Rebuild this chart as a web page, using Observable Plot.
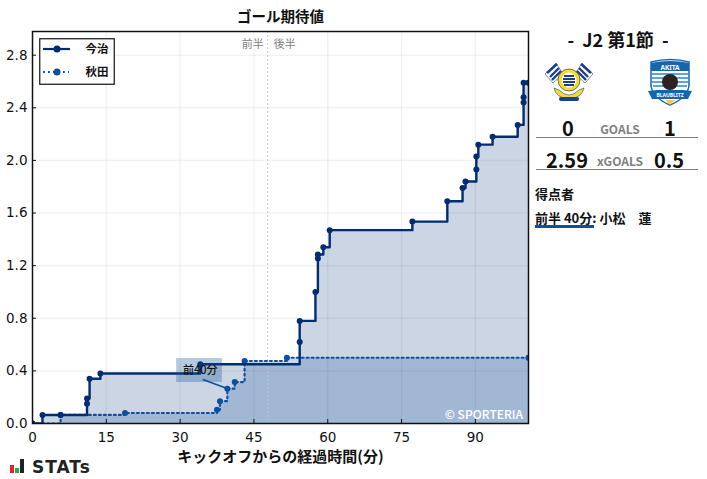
<!DOCTYPE html>
<html><head><meta charset="utf-8">
<script src="https://cdn.jsdelivr.net/npm/d3@7"></script>
<script src="https://cdn.jsdelivr.net/npm/@observablehq/plot@0.6"></script>
<style>
html,body{margin:0;padding:0;background:#fff}
#wrap{position:relative;width:707px;height:479px;overflow:hidden;font-family:"Noto Sans CJK JP","Noto Sans",sans-serif;color:#111}
#wrap>div,#wrap>svg.o{position:absolute}
.c{transform:translateX(-50%);white-space:nowrap;font-weight:700;line-height:1}
.g{color:#808080;font-size:12px}
.hr{height:1px;background:#808080;left:536px;width:162px}
</style></head><body><div id="wrap"></div>
<script>
const homeMin = [0,2.03,5.7,11.08,11.08,11.6,13.8,34.1,54.3,54.3,57.5,58,58,59.1,60.4,77.2,84.3,87.4,88,90.2,90.2,90.6,93.5,98.6,99.8,99.8,99.8,100.8];
const homeXg  = [0,0.065,0.065,0.15,0.19,0.34,0.38,0.45,0.62,0.78,1.0,1.255,1.285,1.34,1.47,1.535,1.69,1.79,1.84,1.93,2.03,2.12,2.18,2.27,2.44,2.48,2.59,2.59];
const awayMin = [0,5.7,18.8,37.5,38.1,39.6,41.1,43.1,51.7,100.8];
const awayXg  = [0,0.065,0.08,0.105,0.17,0.265,0.315,0.475,0.5,0.5];
const xTicks = [0,15,30,45,60,75,90];
const yTicks = [0,0.4,0.8,1.2,1.6,2.0,2.4,2.8];
const halfTime = [47.8];
const goalBox = [{x1:29.3,x2:38.6,y1:0.312,y2:0.494}];
const goalArrow = [{x1:34.6,y1:0.335,x2:39.3,y2:0.27}];
const goalLabel = [{x:34.1,y:0.405,t:"前40分"}];
const homeColor = "#002d72", awayColor = "#0c4f9e";
const home = homeMin.map((m,i)=>({m,v:homeXg[i],z:0}));
const away = awayMin.map((m,i)=>({m,v:awayXg[i],z:0}));
const jp = '"Noto Sans CJK JP"';

const chart = Plot.plot({
  width:707,height:479,marginLeft:32,marginRight:179,marginTop:31,marginBottom:56,
  style:{background:"transparent",fontFamily:"DejaVu Sans",fontSize:"13.5px",color:"#111",overflow:"visible"},
  x:{domain:[0,100.8]},
  y:{domain:[0,2.98]},
  marks:[
    Plot.area(home,{x1:"m",y1:"z",y2:"v",curve:"step-after",fill:homeColor,fillOpacity:0.2}),
    Plot.area(away,{x1:"m",y1:"z",y2:"v",curve:"step-after",fill:awayColor,fillOpacity:0.22}),
    Plot.ruleX(xTicks,{stroke:"#000",strokeOpacity:0.05,strokeWidth:1.5}),
    Plot.ruleY(yTicks,{stroke:"#000",strokeOpacity:0.05,strokeWidth:1.5}),
    Plot.ruleX(halfTime,{stroke:"#c4c4c4",strokeWidth:1,strokeDasharray:"2 2"}),
    Plot.line(away,{x:"m",y:"v",curve:"step-after",stroke:awayColor,strokeWidth:2.2,strokeDasharray:"1.8 3.2",clip:true}),
    Plot.dot(away,{x:"m",y:"v",r:3,fill:awayColor,clip:true}),
    Plot.line(home,{x:"m",y:"v",curve:"step-after",stroke:homeColor,strokeWidth:2.4,clip:true}),
    Plot.dot(home,{x:"m",y:"v",r:3,fill:homeColor,clip:true}),
    Plot.rect(goalBox,{x1:"x1",x2:"x2",y1:"y1",y2:"y2",fill:awayColor,fillOpacity:0.3}),
    Plot.link(goalArrow,{x1:"x1",y1:"y1",x2:"x2",y2:"y2",stroke:awayColor,strokeWidth:1.6}),
    Plot.text(goalLabel,{x:"x",y:"y",text:"t",fontFamily:jp,fontSize:11,fontWeight:500,fill:"#111"}),
    Plot.text(["前半"],{x:halfTime,frameAnchor:"top",dy:9,dx:-4,textAnchor:"end",fontFamily:jp,fontSize:11,fill:"#808080"}),
    Plot.text(["後半"],{x:halfTime,frameAnchor:"top",dy:9,dx:6,textAnchor:"start",fontFamily:jp,fontSize:11,fill:"#808080"}),
    Plot.frame({stroke:"#111",strokeWidth:1.5}),
    Plot.axisX({ticks:xTicks,tickSize:-4,tickPadding:13,label:null,tickFormat:d=>d,stroke:"#111",fill:"#111"}),
    Plot.axisY({ticks:yTicks,tickSize:-4,tickPadding:9,label:null,tickFormat:d3.format(".1f"),stroke:"#111",fill:"#111"})
  ]
});
const wrap = document.getElementById("wrap");
wrap.appendChild(chart);
function add(html){const t=document.createElement("div");t.innerHTML=html;while(t.firstChild)wrap.appendChild(t.firstChild);}
const pos=(x,y,size,txt,extra="",cls="c")=>`<div class="${cls}" style="left:${x}px;top:${y}px;font-size:${size}px;${extra}">${txt}</div>`;
add(pos(280.5,9,14.5,"ゴール期待値"));
add(pos(280.5,448,15,"キックオフからの経過時間(分)"));
// legend
add(`<svg class="o" style="left:39px;top:38px" width="76" height="47">
<rect x=".75" y=".75" width="74.5" height="45.5" fill="#fff" stroke="#111" stroke-width="1.2"/>
<line x1="4" x2="31" y1="11" y2="11" stroke="${homeColor}" stroke-width="2.2"/><circle cx="18" cy="11" r="3.5" fill="${homeColor}"/>
<line x1="4" x2="30" y1="34" y2="34" stroke="${awayColor}" stroke-width="2.2" stroke-dasharray="1.8 3.2"/><circle cx="18" cy="34" r="3.5" fill="${awayColor}"/>
</svg>`);
add(pos(97,43,11.5,"今治"));
add(pos(97,66,11.5,"秋田"));
// right panel
add(pos(618,30,18,"- &nbsp;J2 第1節&nbsp; -"));
add(`<svg class="o" style="left:544px;top:60px" width="50" height="46" viewBox="0 0 50 46">
<g stroke="#1b3f8b" stroke-width=".6"><path d="M1 14L12 3L19 14L9 23Z" fill="#fff"/><path d="M3 13L13 4M6 17L15 8M8 20L17 11" stroke-width="2.4"/>
<path d="M49 14L38 3L31 14L41 23Z" fill="#fff"/><path d="M47 13L37 4M44 17L35 8M42 20L33 11" stroke-width="2.4"/></g>
<path d="M10 28Q12 38 25 39Q38 38 40 28L35 30Q30 35 25 35Q20 35 15 30Z" fill="#f4dc2e" stroke="#1b3f8b" stroke-width=".6"/>
<circle cx="25" cy="20" r="11" fill="#f4dc2e" stroke="#222" stroke-width=".6"/><circle cx="25" cy="20" r="7.500" fill="#fff"/>
<path d="M20 16h10M19 19h12M19 22h12M20 25h10" stroke="#1b3f8b" stroke-width="1.8"/>
<rect x="15" y="37" width="20" height="4" rx="2" fill="#1b3f8b"/></svg>`);
add(`<svg class="o" style="left:647px;top:58px" width="46" height="48" viewBox="0 0 46 48">
<path d="M4 4Q23 -1 42 4V28Q40 40 23 47Q6 40 4 28Z" fill="#fff" stroke="#1466ad" stroke-width="1.5"/>
<path d="M4 5Q23 1 42 5V13H4Z" fill="#1466ad"/>
<text x="23" y="11.500" text-anchor="middle" font-size="6.500" font-weight="700" fill="#fff" font-family="Noto Sans">AKITA</text>
<path d="M5 16H41M5 20H41M5 24H41M6 28H40" stroke="#5aa5dc" stroke-width="2"/>
<circle cx="23" cy="24" r="8" fill="#2b2320"/>
<path d="M1 33L10 32H36L45 33L41 41H5Z" fill="#1466ad"/>
<text x="23" y="38.500" text-anchor="middle" font-size="5" font-weight="700" fill="#fff" font-family="Noto Sans">BLAUBLITZ</text>
<path d="M18 42L23 47L28 42Z" fill="#f2cf3b"/></svg>`);
add(pos(568,118,20,"0"));
add(pos(620,122.500,12,"GOALS","","c g"));
add(pos(670,118,20,"1"));
add(`<div class="hr" style="top:137px"></div>`);
add(pos(567,150,20,"2.59"));
add(pos(620,155,12,"xGOALS","","c g"));
add(pos(669,150,20,"0.5"));
add(`<div class="hr" style="top:169px"></div>`);
add(`<div style="left:535px;top:187px;font-size:13px;font-weight:700;line-height:1;white-space:nowrap">得点者</div>`);
add(`<div style="left:535px;top:211px;font-size:13px;font-weight:700;line-height:1;white-space:nowrap">前半 40分: 小松　蓮</div>`);
add(`<div style="left:535px;top:225px;width:59px;height:3px;background:${awayColor}"></div>`);
// STATs logo
add(`<svg class="o" style="left:10px;top:459px" width="15" height="15"><rect x="0" y="6" width="4" height="8" fill="#e0242b"/><rect x="5" y="9" width="4" height="5" fill="#2fa84f"/><rect x="10" y="0" width="4" height="14" fill="#222"/></svg>`);
add(`<div style="left:32px;top:457px;font-family:'DejaVu Sans';font-weight:700;font-size:17px;line-height:20px;letter-spacing:1px;color:#222">STATs</div>`);
add(`<div style="right:184px;top:407px;font-size:12px;font-weight:500;line-height:14px;color:#fff">© SPORTERIA</div>`);
</script></body></html>
